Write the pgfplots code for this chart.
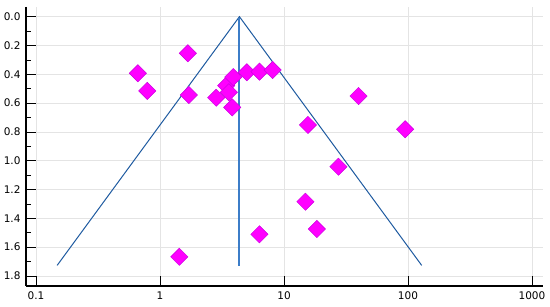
\documentclass[border=0pt]{standalone}
\usepackage{pgfplots}
\pgfplotsset{compat=1.18}
\usepackage{fontspec}
\setmainfont{DejaVu Sans}
\definecolor{gridc}{RGB}{228,228,228}
\definecolor{funnel}{RGB}{30,90,160}
\definecolor{midline}{RGB}{60,125,200}
\definecolor{mag}{RGB}{255,0,255}
\definecolor{magedge}{RGB}{205,0,225}
\begin{document}
\begin{tikzpicture}
\begin{axis}[
  scale only axis,
  width=517pt, height=279pt,
  xmode=log, log basis x=10,
  xmin=0.083, xmax=1227,
  ymin=-0.067, ymax=1.87,
  y dir=reverse,
  axis x line*=bottom, axis y line*=left,
  axis line style={line width=1.3pt, black},
  xtick={0.1,1,10,100,1000},
  xticklabels={0.1,1,10,100,1000},
  xticklabel style={yshift=-2pt},
  ytick={0,0.2,0.4,0.6,0.8,1.0,1.2,1.4,1.6,1.8},
  yticklabel style={/pgf/number format/fixed,/pgf/number format/fixed zerofill,/pgf/number format/precision=1, xshift=-2pt},
  minor y tick num=1,
  /pgf/number format/assume math mode=true,
  tick label style={font=\fontsize{10.5}{12}\selectfont},
  tick align=inside,
  major tick length=10pt, minor tick length=5pt,
  tick style={black, line width=0.6pt},
  xmajorgrids=true, xminorgrids=true, ymajorgrids=true,
  major grid style={gridc, line width=0.7pt},
  minor grid style={gridc, line width=0.7pt},
  clip=false,
]
\addplot[funnel, line width=1pt, mark=none] coordinates {(0.148,1.727) (4.37,0) (129,1.727)};
\addplot[draw=midline, line width=2pt, mark=none, line cap=butt] coordinates {(4.37,0.01) (4.37,1.73)};
\addplot[only marks, mark=square*, mark size=6.1pt,
  mark options={rotate=45, fill=mag, draw=magedge, line width=0.5pt}] coordinates {
(0.662,0.393)
(0.789,0.516)
(1.675,0.254)
(1.706,0.544)
(2.84,0.563)
(3.42,0.479)
(3.59,0.525)
(3.9,0.42)
(3.82,0.63)
(5.01,0.386)
(6.34,0.382)
(8.1,0.370)
(39.9,0.551)
(15.6,0.752)
(94.9,0.782)
(27.5,1.042)
(14.9,1.285)
(18.4,1.474)
(1.43,1.667)
(6.34,1.511)
};
\end{axis}
\pgfresetboundingbox
\useasboundingbox ([shift={(-26pt,-21pt)}]current axis.south west) rectangle ([shift={(7pt,7pt)}]current axis.north east);
\end{tikzpicture}
\end{document}
